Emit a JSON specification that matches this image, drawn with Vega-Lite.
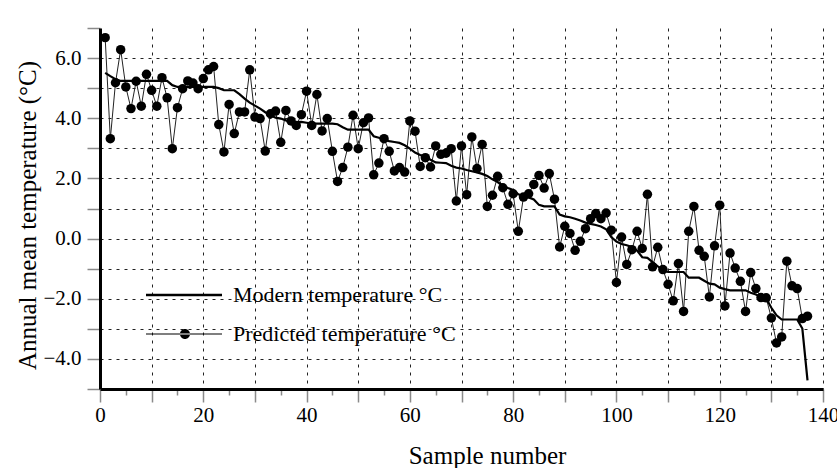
{
  "$schema": "https://vega.github.io/schema/vega-lite/v6.json",
  "width": 723,
  "height": 361,
  "autosize": {"type": "none"},
  "padding": {"left": 100, "top": 28, "right": 14, "bottom": 79},
  "background": "white",
  "config": {"view": {"stroke": null}, "font": "Liberation Serif"},
  "data": {"values": [
    {"sample":1,"modern":5.51,"predicted":6.68},{"sample":2,"modern":5.40,"predicted":3.32},{"sample":3,"modern":5.30,"predicted":5.18},{"sample":4,"modern":5.24,"predicted":6.28},{"sample":5,"modern":5.24,"predicted":5.04},
    {"sample":6,"modern":5.24,"predicted":4.32},{"sample":7,"modern":5.24,"predicted":5.23},{"sample":8,"modern":5.24,"predicted":4.40},{"sample":9,"modern":5.24,"predicted":5.46},{"sample":10,"modern":5.24,"predicted":4.93},
    {"sample":11,"modern":5.24,"predicted":4.40},{"sample":12,"modern":5.24,"predicted":5.35},{"sample":13,"modern":5.24,"predicted":4.68},{"sample":14,"modern":5.10,"predicted":2.99},{"sample":15,"modern":5.04,"predicted":4.35},
    {"sample":16,"modern":5.04,"predicted":4.98},{"sample":17,"modern":5.04,"predicted":5.24},{"sample":18,"modern":5.04,"predicted":5.17},{"sample":19,"modern":5.04,"predicted":4.98},{"sample":20,"modern":5.04,"predicted":5.32},
    {"sample":21,"modern":5.04,"predicted":5.61},{"sample":22,"modern":5.04,"predicted":5.72},{"sample":23,"modern":5.00,"predicted":3.79},{"sample":24,"modern":4.93,"predicted":2.88},{"sample":25,"modern":4.93,"predicted":4.46},
    {"sample":26,"modern":4.93,"predicted":3.49},{"sample":27,"modern":4.80,"predicted":4.21},{"sample":28,"modern":4.65,"predicted":4.21},{"sample":29,"modern":4.52,"predicted":5.61},{"sample":30,"modern":4.42,"predicted":4.04},
    {"sample":31,"modern":4.32,"predicted":3.99},{"sample":32,"modern":4.20,"predicted":2.91},{"sample":33,"modern":4.10,"predicted":4.15},{"sample":34,"modern":4.02,"predicted":4.24},{"sample":35,"modern":3.99,"predicted":3.20},
    {"sample":36,"modern":3.93,"predicted":4.26},{"sample":37,"modern":3.88,"predicted":3.91},{"sample":38,"modern":3.87,"predicted":3.76},{"sample":39,"modern":3.88,"predicted":4.12},{"sample":40,"modern":3.85,"predicted":4.90},
    {"sample":41,"modern":3.82,"predicted":3.76},{"sample":42,"modern":3.82,"predicted":4.79},{"sample":43,"modern":3.82,"predicted":3.58},{"sample":44,"modern":3.82,"predicted":3.99},{"sample":45,"modern":3.82,"predicted":2.90},
    {"sample":46,"modern":3.80,"predicted":1.90},{"sample":47,"modern":3.70,"predicted":2.36},{"sample":48,"modern":3.62,"predicted":3.04},{"sample":49,"modern":3.62,"predicted":4.10},{"sample":50,"modern":3.62,"predicted":2.99},
    {"sample":51,"modern":3.62,"predicted":3.85},{"sample":52,"modern":3.62,"predicted":4.01},{"sample":53,"modern":3.40,"predicted":2.12},{"sample":54,"modern":3.35,"predicted":2.51},{"sample":55,"modern":3.29,"predicted":3.32},
    {"sample":56,"modern":3.24,"predicted":2.90},{"sample":57,"modern":3.21,"predicted":2.25},{"sample":58,"modern":3.18,"predicted":2.36},{"sample":59,"modern":3.10,"predicted":2.21},{"sample":60,"modern":2.99,"predicted":3.91},
    {"sample":61,"modern":2.86,"predicted":3.57},{"sample":62,"modern":2.78,"predicted":2.40},{"sample":63,"modern":2.72,"predicted":2.69},{"sample":64,"modern":2.62,"predicted":2.38},{"sample":65,"modern":2.53,"predicted":3.08},
    {"sample":66,"modern":2.52,"predicted":2.80},{"sample":67,"modern":2.51,"predicted":2.84},{"sample":68,"modern":2.42,"predicted":2.99},{"sample":69,"modern":2.36,"predicted":1.25},{"sample":70,"modern":2.33,"predicted":3.08},
    {"sample":71,"modern":2.28,"predicted":1.46},{"sample":72,"modern":2.24,"predicted":3.38},{"sample":73,"modern":2.20,"predicted":2.33},{"sample":74,"modern":2.15,"predicted":3.13},{"sample":75,"modern":2.08,"predicted":1.07},
    {"sample":76,"modern":1.97,"predicted":1.44},{"sample":77,"modern":1.88,"predicted":2.07},{"sample":78,"modern":1.75,"predicted":1.69},{"sample":79,"modern":1.68,"predicted":1.14},{"sample":80,"modern":1.62,"predicted":1.49},
    {"sample":81,"modern":1.47,"predicted":0.24},{"sample":82,"modern":1.42,"predicted":1.38},{"sample":83,"modern":1.37,"predicted":1.49},{"sample":84,"modern":1.30,"predicted":1.80},{"sample":85,"modern":1.12,"predicted":2.10},
    {"sample":86,"modern":1.07,"predicted":1.68},{"sample":87,"modern":1.07,"predicted":2.16},{"sample":88,"modern":1.07,"predicted":1.31},{"sample":89,"modern":0.80,"predicted":-0.28},{"sample":90,"modern":0.74,"predicted":0.41},
    {"sample":91,"modern":0.71,"predicted":0.17},{"sample":92,"modern":0.66,"predicted":-0.39},{"sample":93,"modern":0.60,"predicted":-0.09},{"sample":94,"modern":0.53,"predicted":0.33},{"sample":95,"modern":0.49,"predicted":0.66},
    {"sample":96,"modern":0.45,"predicted":0.83},{"sample":97,"modern":0.40,"predicted":0.66},{"sample":98,"modern":0.31,"predicted":0.85},{"sample":99,"modern":0.05,"predicted":0.28},{"sample":100,"modern":-0.10,"predicted":-1.46},
    {"sample":101,"modern":-0.18,"predicted":0.05},{"sample":102,"modern":-0.22,"predicted":-0.86},{"sample":103,"modern":-0.28,"predicted":-0.37},{"sample":104,"modern":-0.40,"predicted":0.24},{"sample":105,"modern":-0.62,"predicted":-0.33},
    {"sample":106,"modern":-0.64,"predicted":1.47},{"sample":107,"modern":-0.78,"predicted":-0.94},{"sample":108,"modern":-0.92,"predicted":-0.29},{"sample":109,"modern":-1.06,"predicted":-1.03},{"sample":110,"modern":-1.11,"predicted":-1.52},
    {"sample":111,"modern":-1.11,"predicted":-2.07},{"sample":112,"modern":-1.11,"predicted":-0.83},{"sample":113,"modern":-1.11,"predicted":-2.42},{"sample":114,"modern":-1.30,"predicted":0.24},{"sample":115,"modern":-1.30,"predicted":1.07},
    {"sample":116,"modern":-1.30,"predicted":-0.39},{"sample":117,"modern":-1.40,"predicted":-0.59},{"sample":118,"modern":-1.50,"predicted":-1.94},{"sample":119,"modern":-1.52,"predicted":-0.24},{"sample":120,"modern":-1.63,"predicted":1.11},
    {"sample":121,"modern":-1.68,"predicted":-2.24},{"sample":122,"modern":-1.72,"predicted":-0.48},{"sample":123,"modern":-1.72,"predicted":-0.98},{"sample":124,"modern":-1.72,"predicted":-1.42},{"sample":125,"modern":-1.72,"predicted":-2.42},
    {"sample":126,"modern":-1.80,"predicted":-1.13},{"sample":127,"modern":-1.86,"predicted":-1.66},{"sample":128,"modern":-1.94,"predicted":-1.96},{"sample":129,"modern":-1.99,"predicted":-1.97},{"sample":130,"modern":-2.30,"predicted":-2.64},
    {"sample":131,"modern":-2.55,"predicted":-3.47},{"sample":132,"modern":-2.69,"predicted":-3.27},{"sample":133,"modern":-2.69,"predicted":-0.75},{"sample":134,"modern":-2.69,"predicted":-1.57},{"sample":135,"modern":-2.69,"predicted":-1.66},
    {"sample":136,"modern":-2.99,"predicted":-2.66},{"sample":137,"modern":-4.71,"predicted":-2.58}
  ]},
  "layer": [
    {
      "mark": {"type": "line", "color": "#222222", "strokeWidth": 1},
      "encoding": {
        "x": {
          "field": "sample", "type": "quantitative",
          "scale": {"domain": [0, 140], "nice": false, "zero": false},
          "axis": {
            "values": [0,5,10,15,20,25,30,35,40,45,50,55,60,65,70,75,80,85,90,95,100,105,110,115,120,125,130,135,140],
            "tickCount": 500,
            "format": "d",
            "labelExpr": "datum.value % 20 === 0 ? datum.label : ''",
            "grid": true,
            "gridDash": [3, 5],
            "gridColor": "#222222",
            "gridWidth": 1,
            "gridOpacity": {"condition": {"test": "datum.value % 10 !== 0 || datum.value === 0", "value": 0}, "value": 1},
            "ticks": true,
            "tickColor": "#8a8a8a",
            "tickWidth": 1.5,
            "tickSize": {"condition": {"test": "datum.value % 10 === 0", "value": 13}, "value": 6},
            "domainColor": "black",
            "domainWidth": 3,
            "labelFont": "Liberation Serif",
            "labelFontSize": 21,
            "labelColor": "black",
            "labelPadding": 2,
            "labelFlush": false,
            "labelOverlap": false,
            "title": "Sample number",
            "titleFont": "Liberation Serif",
            "titleFontSize": 25,
            "titleFontWeight": "normal",
            "titleColor": "black",
            "titleX": 387,
            "titleY": 74,
            "titleBaseline": "alphabetic"
          }
        },
        "y": {
          "field": "predicted", "type": "quantitative",
          "scale": {"domain": [-5, 7], "nice": false, "zero": false},
          "axis": {
            "values": [-5,-4,-3,-2,-1,0,1,2,3,4,5,6,7],
            "tickCount": 500,
            "labelExpr": "datum.value % 2 === 0 ? format(datum.value, '.1f') : ''",
            "grid": true,
            "gridDash": [3, 5],
            "gridColor": "#222222",
            "gridWidth": 1,
            "gridOpacity": {"condition": {"test": "datum.value === 7 || datum.value === -5", "value": 0}, "value": 1},
            "tickColor": "#8a8a8a",
            "tickWidth": 1.5,
            "tickSize": 13,
            "domainColor": "black",
            "domainWidth": 3,
            "labelFont": "Liberation Serif",
            "labelFontSize": 21,
            "labelColor": "black",
            "labelPadding": 6,
            "labelOverlap": false,
            "title": "Annual mean temperature (°C)",
            "titleFont": "Liberation Serif",
            "titleFontSize": 25,
            "titleFontWeight": "normal",
            "titleColor": "black",
            "titleX": -65,
            "titleY": 187,
            "titleBaseline": "alphabetic"
          }
        }
      }
    },
    {
      "mark": {"type": "line", "color": "black", "strokeWidth": 2.2},
      "encoding": {
        "x": {"field": "sample", "type": "quantitative"},
        "y": {"field": "modern", "type": "quantitative"}
      }
    },
    {
      "mark": {"type": "point", "filled": true, "color": "black", "size": 90, "opacity": 1},
      "encoding": {
        "x": {"field": "sample", "type": "quantitative"},
        "y": {"field": "predicted", "type": "quantitative"}
      }
    },
    {
      "mark": {"type": "point", "filled": true, "color": "black", "size": 100, "opacity": 0},
      "encoding": {
        "x": {"field": "sample", "type": "quantitative"},
        "y": {"field": "predicted", "type": "quantitative"},
        "shape": {
          "datum": "Predicted temperature °C",
          "scale": {
            "domain": ["Modern temperature °C", "Predicted temperature °C"],
            "range": [
              "M-14,-0.25H1.2V0.25H-14Z",
              "M-14,-0.12H1.2V0.12H-14ZM-7.2,0A1,1 0 1,0 -5.2,0A1,1 0 1,0 -7.2,0Z"
            ]
          },
          "legend": {
            "title": null,
            "orient": "none",
            "legendX": 105,
            "legendY": 256,
            "padding": 0,
            "symbolSize": 100,
            "symbolOpacity": 1,
            "symbolFillColor": "black",
            "symbolStrokeWidth": 0,
            "labelFont": "Liberation Serif",
            "labelFontSize": 22,
            "labelColor": "black",
            "labelLimit": 0,
            "labelOffset": 6,
            "rowPadding": 17
          }
        }
      }
    }
  ]
}
